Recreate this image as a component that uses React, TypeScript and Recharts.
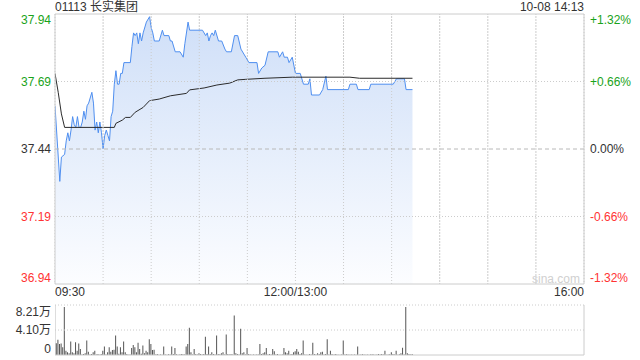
import {
  ComposedChart,
  Area,
  Line,
  XAxis,
  YAxis,
  CartesianGrid,
  ReferenceLine,
  BarChart,
  Bar,
} from 'recharts'

const FONT = "Arial, 'Liberation Sans', 'Noto Sans CJK SC', sans-serif"
const GREEN = '#1aa31a'
const RED = '#ff3333'
const DARK = '#333333'
const GRID = '#cccccc'

const PREV_CLOSE = 37.44
const PRICE_TICKS = [36.94, 37.19, 37.44, 37.69, 37.94]
const PCT_LABELS = ['-1.32%', '-0.66%', '0.00%', '+0.66%', '+1.32%']
const TIME_TICKS = [0, 30, 60, 90, 120, 150, 180, 210, 240, 270, 300, 330]
const TIME_LABELS: Record<number, string> = { 0: '09:30', 150: '12:00/13:00', 330: '16:00' }
const VOL_TICKS = [0, 4.1, 8.21]
const VOL_LABELS = ['0', '4.10万', '8.21万']

// minutes since 09:30 (lunch break skipped) and last price
const priceMinutes = [
  0, 3, 4, 6, 7, 8, 9, 10, 11, 12, 13, 14, 15, 16, 17, 18, 19, 20, 21, 23,
  24, 25, 26, 27, 28, 29, 30, 31, 32, 33, 34, 35, 36, 37, 38, 39, 40, 41, 42, 43,
  47, 48, 49, 50, 51, 52, 53, 54, 55, 57, 59, 60, 61, 62, 65, 67, 68, 71, 72, 73,
  75, 78, 80, 81, 83, 84, 92, 94, 95, 96, 97, 98, 99, 100, 102, 104, 106, 107, 110, 112,
  114, 116, 119, 121, 126, 127, 129, 131, 133, 139, 140, 142, 143, 145, 146, 148, 150, 153, 155, 158,
  159, 160, 165, 167, 169, 170, 183, 184, 188, 189, 196, 197, 211, 213, 218, 219, 223,
]
const prices = [
  37.6, 37.32, 37.41, 37.42, 37.47, 37.5, 37.47, 37.51, 37.56, 37.53, 37.52, 37.56, 37.52, 37.52, 37.54, 37.58, 37.55, 37.6, 37.61, 37.65,
  37.61, 37.51, 37.54, 37.5, 37.54, 37.5, 37.44, 37.49, 37.51, 37.49, 37.47, 37.56, 37.58, 37.68, 37.73, 37.68, 37.68, 37.72, 37.72, 37.76,
  37.76, 37.82, 37.87, 37.86, 37.87, 37.83, 37.87, 37.84, 37.87, 37.91, 37.93, 37.89, 37.87, 37.84, 37.84, 37.88, 37.86, 37.86, 37.84, 37.84,
  37.8, 37.8, 37.78, 37.83, 37.91, 37.88, 37.88, 37.86, 37.87, 37.84, 37.86, 37.87, 37.86, 37.88, 37.84, 37.84, 37.81, 37.8, 37.8, 37.86,
  37.86, 37.81, 37.78, 37.76, 37.76, 37.72, 37.74, 37.75, 37.8, 37.8, 37.78, 37.8, 37.78, 37.78, 37.76, 37.78, 37.72, 37.72, 37.68, 37.68,
  37.7, 37.64, 37.64, 37.66, 37.71, 37.66, 37.66, 37.68, 37.68, 37.66, 37.66, 37.68, 37.68, 37.7, 37.7, 37.66, 37.66,
]

const avgMinutes = [0, 2, 4, 6, 25, 37, 38, 42, 44, 47, 50, 55, 59, 65, 72, 82, 84, 93, 101, 109, 114, 119, 131, 148, 184, 190, 223]
const avgPrices = [
  37.72, 37.65, 37.57, 37.52, 37.52, 37.52, 37.535, 37.547, 37.557, 37.557, 37.576, 37.594, 37.619, 37.625,
  37.637, 37.646, 37.659, 37.666, 37.677, 37.684, 37.696, 37.698, 37.702, 37.706, 37.706, 37.702, 37.702,
]

// volume per minute, in 万 shares
const volumes = [
  8.21, 1.93, 2.5, 1.8, 1.9, 1.27, 7.9, 0.7, 0.44, 0.3,
  2.2, 0.44, 0.3, 2.1, 0.7, 1.9, 1.0, 0.1, 0.17, 0.28,
  2.4, 0.55, 0.1, 0.17, 0.44, 0.7, 0.1, 0.17, 0.06, 0.17,
  0.7, 1.4, 0.1, 0.44, 1.27, 0.55, 0.83, 0.88, 3.2, 1.4,
  0.2, 1.27, 0.44, 2.2, 0.44, 0.17, 0.06, 0.1, 1.16, 1.65,
  1.27, 0.44, 2.0, 1.0, 0.2, 1.54, 0.28, 0.7, 0.44, 2.6,
  1.8, 0.83, 0.88, 0.1, 0.17, 0.06, 0.1, 0.06, 1.4, 0.1,
  0.06, 0.11, 0.1, 1.4, 0.17, 1.16, 0.11, 0.06, 0.1, 0.17,
  0.11, 0.1, 1.4, 1.8, 4.46, 0.44, 0.1, 1.0, 0.17, 0.1,
  0.28, 0.17, 0.1, 0.17, 3.0, 0.17, 1.4, 0.17, 0.44, 0.17,
  0.1, 3.2, 0.17, 0.11, 0.28, 0.44, 0.1, 3.36, 0.17, 0.1,
  0.17, 0.1, 6.5, 0.28, 0.17, 0.1, 4.3, 0.28, 0.44, 0.1,
  1.16, 0.17, 0.1, 0.06, 0.1, 0.06, 0.1, 0.1, 1.8, 0.17,
  0.28, 0.44, 1.16, 0.1, 0.17, 0.1, 1.0, 0.6, 0.1, 0.17,
  0.06, 0.06, 0.1, 1.16, 0.44, 0.28, 0.7, 0.1, 0.17, 0.44,
  0.6, 1.0, 0.55, 0.17, 0.28, 2.37, 0.1, 0.06, 0.06, 0.17,
  0.1, 2.0, 0.17, 0.1, 0.28, 0.17, 0.44, 0.55, 0.1, 0.17,
  2.6, 0.1, 0.7, 0.17, 0.06, 0.17, 0.1, 0.06, 0.06, 0.1,
  2.37, 0.1, 0.11, 0.1, 0.06, 0.1, 0.06, 0.1, 0.06, 1.4,
  0.06, 0.1, 0.11, 0.1, 0.06, 0.1, 0.06, 0.1, 0.11, 0.1,
  0.06, 0.1, 0.17, 0.1, 0.17, 0.1, 0.7, 0.06, 0.1, 0.11,
  0.44, 0.17, 0.1, 0.7, 0.06, 0.11, 0.28, 1.2, 0.1, 7.9,
  0.28, 0.17, 0.1, 0.17,
]

const priceData = priceMinutes.map((m, i) => ({ m, p: prices[i] }))
const avgData = avgMinutes.map((m, i) => ({ m, a: avgPrices[i] }))
const volData = volumes.map((v, i) => ({ m: i, v }))

const tickColor = (v: number) =>
  v > PREV_CLOSE + 1e-6 ? GREEN : v < PREV_CLOSE - 1e-6 ? RED : DARK

// nudge the end labels inwards, like the original
const edgeShift = (v: number, ticks: number[], down: number, up: number) =>
  v === ticks[ticks.length - 1] ? down : v === ticks[0] ? -up : 0

const LeftPriceTick = ({ x, y, payload }: any) => {
  const v = payload.value
  return (
    <text x={x} y={y + edgeShift(v, PRICE_TICKS, 6, 6)} dy="0.35em" textAnchor="end" fill={tickColor(v)} fontSize={12} fontFamily={FONT}>
      {v.toFixed(2)}
    </text>
  )
}

const RightPctTick = ({ x, y, payload }: any) => {
  const v = payload.value
  const i = PRICE_TICKS.indexOf(v)
  return (
    <text x={x} y={y + edgeShift(v, PRICE_TICKS, 6, 6)} dy="0.35em" textAnchor="start" fill={tickColor(v)} fontSize={12} fontFamily={FONT}>
      {PCT_LABELS[i]}
    </text>
  )
}

const TimeTick = ({ x, y, payload }: any) => {
  const label = TIME_LABELS[payload.value]
  if (!label) return null
  const anchor = payload.value === 0 ? 'start' : payload.value === 330 ? 'end' : 'middle'
  return (
    <text x={x} y={y} dy="0.75em" textAnchor={anchor} fill={DARK} fontSize={12} fontFamily={FONT}>
      {label}
    </text>
  )
}

const VolTick = ({ x, y, payload }: any) => {
  const v = payload.value
  const i = VOL_TICKS.indexOf(v)
  return (
    <text x={x} y={y + edgeShift(v, VOL_TICKS, 7, 6)} dy="0.35em" textAnchor="end" fill={DARK} fontSize={12} fontFamily={FONT}>
      {VOL_LABELS[i]}
    </text>
  )
}

export default function App() {
  return (
    <div style={{ position: 'absolute', left: 0, top: 0, width: 640, height: 360, background: '#fff', fontFamily: FONT }}>
      <div style={{ position: 'absolute', left: 55, top: 0, fontSize: 12, color: DARK, lineHeight: '15px' }}>
        01113 长实集团
      </div>
      <div style={{ position: 'absolute', right: 56, top: 0, fontSize: 12, color: DARK, lineHeight: '15px' }}>
        10-08 14:13
      </div>

      <div style={{ position: 'absolute', left: 0, top: 0 }}>
        <ComposedChart width={640} height={304} margin={{ top: 14, right: 0, bottom: 0, left: 0 }}>
          <defs>
            <linearGradient id="priceFill" x1="0" y1="0" x2="0" y2="1">
              <stop offset="0%" stopColor="#cfdff8" />
              <stop offset="100%" stopColor="#fcfdff" />
            </linearGradient>
          </defs>
          <CartesianGrid yAxisId="price" horizontal={false} stroke={GRID} strokeDasharray="1 2" />
          <XAxis
            dataKey="m"
            type="number"
            domain={[0, 330]}
            ticks={TIME_TICKS}
            interval={0}
            allowDataOverflow
            height={20}
            axisLine={false}
            tickLine={false}
            tickSize={0}
            tickMargin={3}
            tick={<TimeTick />}
          />
          <YAxis
            yAxisId="price"
            domain={[36.94, 37.94]}
            ticks={PRICE_TICKS}
            interval={0}
            allowDataOverflow
            width={55}
            axisLine={false}
            tickLine={false}
            tickSize={4}
            tickMargin={0}
            tick={<LeftPriceTick />}
          />
          <YAxis
            yAxisId="pct"
            orientation="right"
            domain={[36.94, 37.94]}
            ticks={PRICE_TICKS}
            interval={0}
            allowDataOverflow
            width={56}
            axisLine={false}
            tickLine={false}
            tickSize={4}
            tickMargin={2}
            tick={<RightPctTick />}
          />
          <Area
            yAxisId="price"
            data={priceData}
            dataKey="p"
            type="linear"
            stroke="#4f8ff0"
            strokeWidth={1}
            fill="url(#priceFill)"
            fillOpacity={1}
            isAnimationActive={false}
            dot={false}
            activeDot={false}
          />
          <Line
            yAxisId="price"
            data={avgData}
            dataKey="a"
            type="linear"
            stroke="#2b2b2b"
            strokeWidth={1}
            dot={false}
            activeDot={false}
            isAnimationActive={false}
          />
          {TIME_TICKS.slice(1, -1).map((t) => (
            <ReferenceLine key={t} yAxisId="price" x={t} stroke={GRID} strokeDasharray="1 2" />
          ))}
          <ReferenceLine yAxisId="price" y={37.69} stroke={GRID} strokeDasharray="1 2" />
          <ReferenceLine yAxisId="price" y={37.19} stroke={GRID} strokeDasharray="1 2" />
          <ReferenceLine yAxisId="price" y={37.44} stroke="#b8b8b8" strokeDasharray="4 3" />
          <ReferenceLine yAxisId="price" y={37.94} stroke={GRID} />
          <ReferenceLine yAxisId="price" y={36.94} stroke={GRID} />
          <ReferenceLine yAxisId="price" x={0} stroke={GRID} />
          <ReferenceLine yAxisId="price" x={330} stroke={GRID} />
        </ComposedChart>
      </div>

      <div style={{ position: 'absolute', left: 532, top: 272, fontSize: 12, color: '#d0d0d0', lineHeight: '14px' }}>
        sina.com
      </div>

      <div style={{ position: 'absolute', left: 0, top: 300 }}>
        <BarChart width={640} height={60} data={volData} margin={{ top: 5, right: 56, bottom: 5, left: 0 }}>
          <XAxis dataKey="m" type="number" domain={[0, 330]} hide allowDataOverflow />
          <YAxis
            domain={[0, 8.21]}
            ticks={VOL_TICKS}
            interval={0}
            allowDataOverflow
            width={55}
            axisLine={false}
            tickLine={false}
            tickSize={4}
            tickMargin={0}
            tick={<VolTick />}
          />
          <ReferenceLine y={8.21} stroke={GRID} strokeDasharray="1 2" />
          <ReferenceLine y={4.1} stroke={GRID} strokeDasharray="1 2" />
          <ReferenceLine y={0} stroke={GRID} />
          <ReferenceLine x={330} stroke={GRID} />
          <Bar dataKey="v" fill="#555555" barSize={1} isAnimationActive={false} />
        </BarChart>
      </div>
    </div>
  )
}
